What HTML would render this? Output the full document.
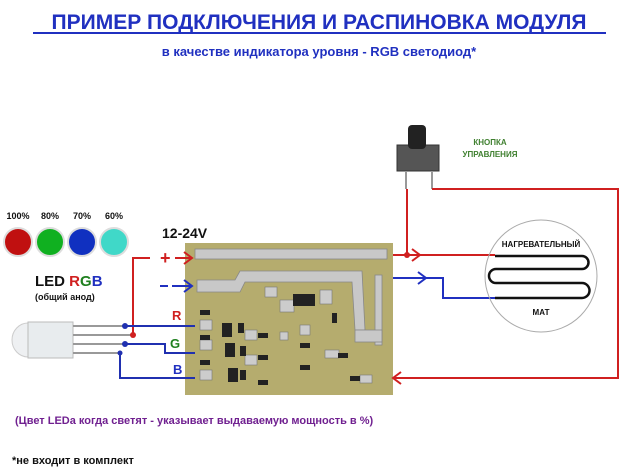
<!DOCTYPE html>
<html><head><meta charset="utf-8"><style>
body{margin:0;width:639px;height:476px;background:#fff;overflow:hidden;font-family:"Liberation Sans",sans-serif}
svg{position:absolute;left:0;top:0}
</style></head><body>
<svg width="639" height="476" viewBox="0 0 639 476" font-family="Liberation Sans, sans-serif" font-weight="bold">
<text x="319" y="29" text-anchor="middle" font-size="21" fill="#2030c0">ПРИМЕР ПОДКЛЮЧЕНИЯ И РАСПИНОВКА МОДУЛЯ</text>
<line x1="33" y1="33" x2="606" y2="33" stroke="#2030c0" stroke-width="2"/>
<text x="319" y="56" text-anchor="middle" font-size="13" fill="#2030c0">в качестве индикатора уровня - RGB светодиод*</text>

<g font-size="9" fill="#111" text-anchor="middle">
<text x="18" y="219">100%</text><text x="50" y="219">80%</text><text x="82" y="219">70%</text><text x="114" y="219">60%</text></g>
<circle cx="18" cy="242" r="14" fill="#c01010" stroke="#ddd" stroke-width="2"/>
<circle cx="50" cy="242" r="14" fill="#10b020" stroke="#ddd" stroke-width="2"/>
<circle cx="82" cy="242" r="14" fill="#1030c0" stroke="#ddd" stroke-width="2"/>
<circle cx="114" cy="242" r="14" fill="#40d8c8" stroke="#ddd" stroke-width="2"/>
<text x="35" y="286" font-size="15" fill="#111">LED <tspan fill="#d02020">R</tspan><tspan fill="#208020">G</tspan><tspan fill="#2030c0">B</tspan></text>
<text x="35" y="300" font-size="9" fill="#111">(общий анод)</text>

<ellipse cx="28" cy="340" rx="16" ry="17" fill="#eef0f2" stroke="#ccc"/>
<rect x="28" y="322" width="45" height="36" fill="#e8ecee" stroke="#bbb"/>
<g stroke="#999" stroke-width="2"><line x1="73" y1="326" x2="125" y2="326"/><line x1="73" y1="335" x2="133" y2="335"/><line x1="73" y1="344" x2="125" y2="344"/><line x1="73" y1="353" x2="120" y2="353"/></g>

<rect x="185" y="243" width="208" height="152" fill="#b5ac6e"/>
<g fill="#c8c8c8" stroke="#888" stroke-width="0.8">
<rect x="195" y="249" width="192" height="10"/>
<path d="M197 280 L235 280 L240 271 L362 271 L365 330 L355 330 L352 282 L245 282 L240 292 L197 292Z"/>
<rect x="375" y="275" width="7" height="70"/>
<rect x="355" y="330" width="27" height="12"/>
</g>
<g fill="#ccc" stroke="#777" stroke-width="0.6">
<rect x="200" y="320" width="12" height="10"/><rect x="200" y="340" width="12" height="10"/><rect x="200" y="370" width="12" height="10"/>
<rect x="265" y="287" width="12" height="10"/><rect x="280" y="300" width="14" height="12"/><rect x="320" y="290" width="12" height="14"/>
<rect x="245" y="330" width="12" height="10"/><rect x="245" y="355" width="12" height="10"/><rect x="280" y="332" width="8" height="8"/>
<rect x="300" y="325" width="10" height="10"/><rect x="325" y="350" width="14" height="8"/><rect x="360" y="375" width="12" height="8"/>
</g>
<g fill="#222"><rect x="293" y="294" width="22" height="12"/><rect x="222" y="323" width="10" height="14"/><rect x="225" y="343" width="10" height="14"/><rect x="228" y="368" width="10" height="14"/>
<rect x="238" y="323" width="6" height="10"/><rect x="240" y="346" width="6" height="10"/><rect x="240" y="370" width="6" height="10"/>
<rect x="258" y="333" width="10" height="5"/><rect x="258" y="355" width="10" height="5"/><rect x="258" y="380" width="10" height="5"/>
<rect x="300" y="343" width="10" height="5"/><rect x="300" y="365" width="10" height="5"/><rect x="338" y="353" width="10" height="5"/><rect x="350" y="376" width="10" height="5"/>
<rect x="332" y="313" width="5" height="10"/><rect x="200" y="310" width="10" height="5"/><rect x="200" y="335" width="10" height="5"/><rect x="200" y="360" width="10" height="5"/></g>
<text x="162" y="238" font-size="14" fill="#111">12-24V</text>

<g fill="none" stroke-width="2">
<path d="M133 335 V258 H150" stroke="#d02020"/>
<path d="M125 326 H195" stroke="#2030b0"/>
<path d="M125 344 H165 V353 H195" stroke="#2030b0"/>
<path d="M120 353 V378 H195" stroke="#2030b0"/>
</g>
<circle cx="133" cy="335" r="3" fill="#d02020"/><circle cx="125" cy="326" r="3" fill="#2030b0"/><circle cx="125" cy="344" r="3" fill="#2030b0"/><circle cx="120" cy="353" r="2.5" fill="#2030b0"/>
<text x="160" y="264" font-size="18" fill="#d02020">+</text>
<path d="M175 258 H192 M184 252 L192 258 L184 264" stroke="#d02020" stroke-width="2" fill="none"/>
<path d="M160 286 H168 M172 286 H192 M184 280 L192 286 L184 292" stroke="#2030c0" stroke-width="2" fill="none"/>
<text x="172" y="320" font-size="13" fill="#d02020">R</text>
<text x="170" y="348" font-size="13" fill="#208020">G</text>
<text x="173" y="374" font-size="13" fill="#2030c0">B</text>

<rect x="397" y="145" width="42" height="26" fill="#555" stroke="#333"/>
<rect x="408" y="125" width="18" height="24" rx="4" fill="#222"/>
<line x1="406" y1="171" x2="406" y2="189" stroke="#999" stroke-width="2"/><line x1="432" y1="171" x2="432" y2="189" stroke="#999" stroke-width="2"/>
<text x="490" y="145" font-size="8" fill="#408030" text-anchor="middle">КНОПКА</text>
<text x="490" y="157" font-size="8" fill="#408030" text-anchor="middle">УПРАВЛЕНИЯ</text>

<g fill="none" stroke-width="2">
<path d="M393 255 H495" stroke="#d02020"/>
<path d="M407 255 V189" stroke="#d02020"/>
<path d="M432 189 H618 V378 H393" stroke="#d02020"/>
<path d="M393 278 H443 V298 H495" stroke="#2030c0"/>
<path d="M412 249 L420 255 L412 261" stroke="#d02020"/>
<path d="M418 272 L426 278 L418 284" stroke="#2030c0"/>
<path d="M401 372 L393 378 L401 384" stroke="#d02020"/>
</g>
<circle cx="407" cy="255" r="3" fill="#d02020"/>
<circle cx="541" cy="276" r="56" fill="none" stroke="#aaa"/>
<path d="M495 256 H582 A6.5 6.5 0 0 1 582 269 H496 A7 7 0 0 0 496 283 H582 A7.5 7.5 0 0 1 582 298 H495" fill="none" stroke="#111" stroke-width="2.5"/>
<text x="541" y="247" font-size="8" fill="#111" text-anchor="middle">НАГРЕВАТЕЛЬНЫЙ</text>
<text x="541" y="315" font-size="8" fill="#111" text-anchor="middle">МАТ</text>

<text x="15" y="424" font-size="11" fill="#702090">(Цвет LEDа когда светят - указывает выдаваемую мощность в %)</text>
<text x="12" y="464" font-size="11" fill="#111">*не входит в комплект</text>
</svg>
</body></html>
